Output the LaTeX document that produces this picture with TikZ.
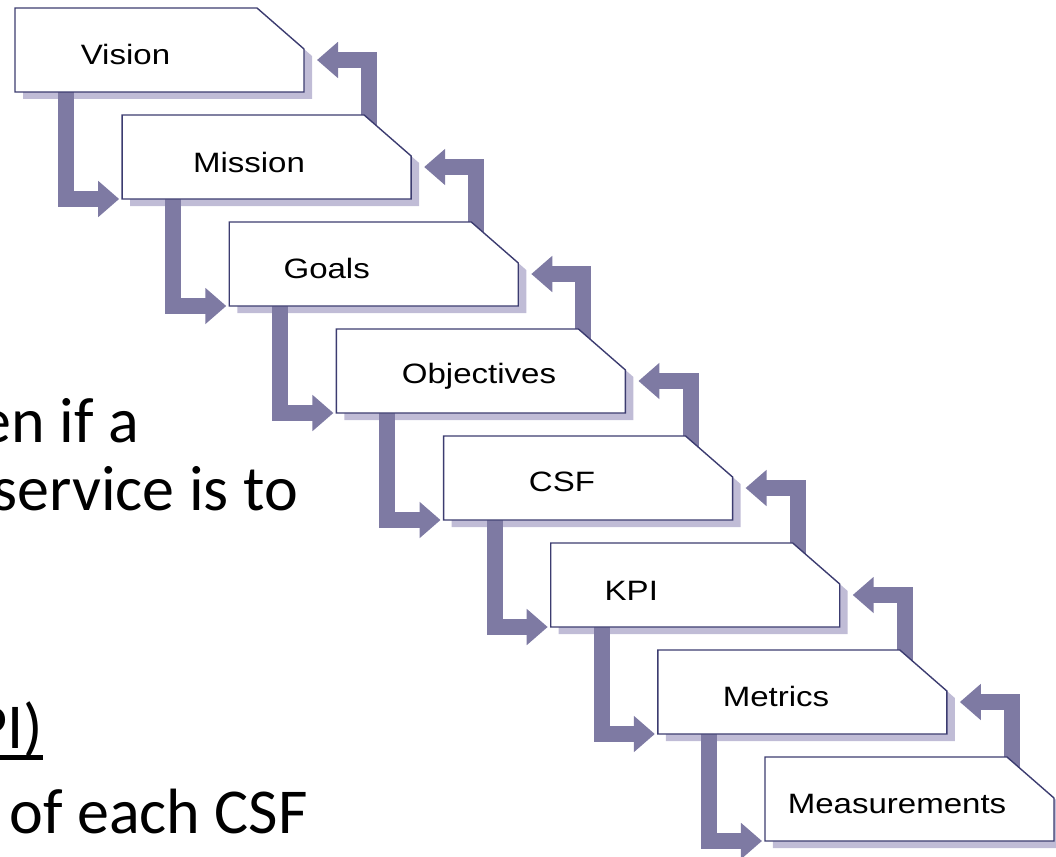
\documentclass[tikz,border=0pt]{standalone}
\usepackage{fontspec}
\setmainfont{Liberation Sans}
\newfontfamily\boxfont[FakeStretch=1.18]{Liberation Sans}
\newfontfamily\slidefont{Carlito}
\usetikzlibrary{arrows.meta}
\definecolor{arrowc}{RGB}{126,122,163}
\definecolor{shadowc}{RGB}{192,188,214}
\definecolor{edgec}{RGB}{60,60,112}
\begin{document}
\begin{tikzpicture}[x=1pt,y=-1pt,
  boxnode/.style={minimum width=289pt, minimum height=84pt, inner sep=0pt, outer sep=0pt},
  lbl/.style={font=\boxfont\fontsize{28}{30}\selectfont, anchor=base, inner sep=0pt},
  slide/.style={font=\slidefont\fontsize{64}{70}\selectfont, anchor=base east, inner sep=0pt},
  flow/.style={draw=arrowc, line width=16pt, line join=miter, -{Triangle[length=21pt,width=35pt]}},
  boxline/.style={draw=edgec, line width=1.4pt, fill=white, line join=miter}
]
\useasboundingbox (0,0) rectangle (1056,856);
\clip (0,0) rectangle (1056,856);

% box anchors
\node[boxnode] (vis) at (159.5,50) {};
\node[boxnode] (mis) at (266.64,157) {};
\node[boxnode] (goa) at (373.78,264) {};
\node[boxnode] (obj) at (480.92,371) {};
\node[boxnode] (csf) at (588.06,478) {};
\node[boxnode] (kpi) at (695.2,585) {};
\node[boxnode] (met) at (802.34,692) {};
\node[boxnode] (mea) at (909.48,799) {};

% shadows
\foreach \n in {vis,mis,goa,obj,csf,kpi,met,mea} {
  \fill[shadowc] ([xshift=8pt,yshift=-7pt]\n.south west) -- ([xshift=8pt,yshift=-7pt]\n.north west)
    -- ([xshift=-39pt,yshift=-7pt]\n.north east) -- ([xshift=8pt,yshift=-48pt]\n.north east)
    -- ([xshift=8pt,yshift=-7pt]\n.south east) -- cycle;
}

% downward connectors
\foreach \a/\b in {vis/mis,mis/goa,goa/obj,obj/csf,csf/kpi,kpi/met,met/mea} {
  \draw[flow, shorten >=3pt] ([xshift=51pt]\a.south west) |- (\b.south west);
}
% upward connectors
\foreach \a/\b in {vis/mis,mis/goa,goa/obj,obj/csf,csf/kpi,kpi/met,met/mea} {
  \draw[flow] ([xshift=102.5pt]\b.center) |- ([xshift=13pt,yshift=-52pt]\a.north east);
}

% boxes
\foreach \n in {vis,mis,goa,obj,csf,kpi,met,mea} {
  \draw[boxline] (\n.south west) -- (\n.north west) -- ([xshift=-47pt]\n.north east)
    -- ([yshift=-41pt]\n.north east) -- (\n.south east) -- cycle;
}

% labels
\node[lbl] (visL) at (125.5,65) {Vision};
\node[lbl] (misL) at (249,172.5) {Mission};
\node[lbl] (goaL) at (326.7,278) {Goals};
\node[lbl] (objL) at (479,383.5) {Objectives};
\node[lbl] (csfL) at (562,491) {CSF};
\node[lbl] (kpiL) at (631.3,600) {KPI};
\node[lbl] (metL) at (776,706) {Metrics};
\node[lbl] (meaL) at (897,813) {Measurements};

% slide text (cut off at the left)
\node[slide] (t1) at (139,442) {en if a};
\node[slide] (t2) at (298,510) {service is to};
\node[slide] (t3) at (43,748) {PI)};
\draw[line width=4.5pt] ([yshift=-9.5pt]t3.base west) -- ([yshift=-9.5pt]t3.base east);
\node[slide] (t4) at (308,833) {of each CSF};
\end{tikzpicture}
\end{document}
